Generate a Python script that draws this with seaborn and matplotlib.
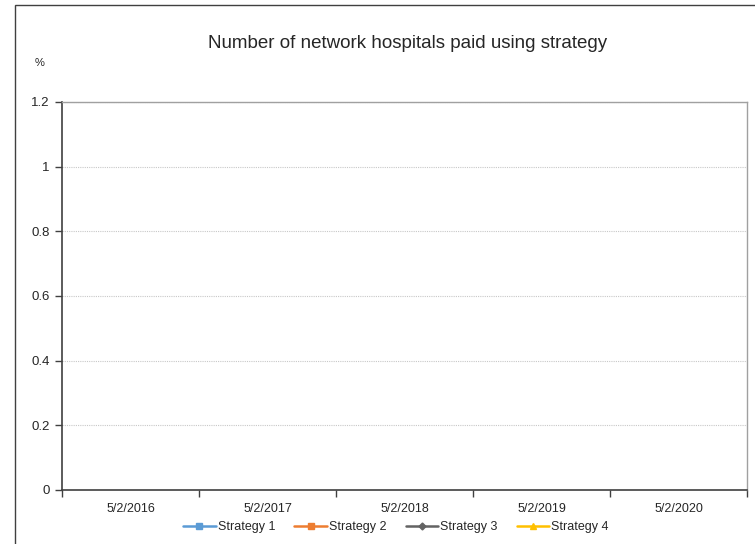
import numpy as np
import pandas as pd
import matplotlib
matplotlib.use("Agg")
import matplotlib.pyplot as plt
import seaborn as sns
from matplotlib.patches import Rectangle

# categories on the x axis
dates = ["5/2/2016", "5/2/2017", "5/2/2018", "5/2/2019", "5/2/2020"]

# series values (chart shows no data points)
strategy_1 = [np.nan, np.nan, np.nan, np.nan, np.nan]
strategy_2 = [np.nan, np.nan, np.nan, np.nan, np.nan]
strategy_3 = [np.nan, np.nan, np.nan, np.nan, np.nan]
strategy_4 = [np.nan, np.nan, np.nan, np.nan, np.nan]

series_names = ["Strategy 1", "Strategy 2", "Strategy 3", "Strategy 4"]
y_ticks = [0, 0.2, 0.4, 0.6, 0.8, 1, 1.2]
y_tick_labels = ["0", "0.2", "0.4", "0.6", "0.8", "1", "1.2"]

sns.set_style("white")
plt.rcParams['font.family'] = ['Liberation Sans', 'DejaVu Sans']

fig = plt.figure(figsize=(7.55, 5.44), dpi=100)
ax = fig.add_axes([62 / 755, 1 - 490 / 544, 685 / 755, 388 / 544])

# outer chart border
fig.patches.append(Rectangle((15 / 755, -0.1), 1.2, 1 - 5 / 544 + 0.1,
                             transform=fig.transFigure, fill=False,
                             edgecolor="#404040", linewidth=1.0))

styles = [("#5B9BD5", "s", 5), ("#ED7D31", "s", 5), ("#636363", "D", 3.5), ("#FFC000", "^", 5)]
x = np.arange(len(dates))
for name, vals, (c, m, ms) in zip(series_names, [strategy_1, strategy_2, strategy_3, strategy_4], styles):
    ax.plot(x, vals, color=c, marker=m, markersize=ms, linewidth=1.8, label=name)

ax.set_xlim(-0.5, len(dates) - 0.5)
ax.set_ylim(0, 1.2)
ax.set_yticks(y_ticks)
ax.set_yticklabels(y_tick_labels, fontsize=9.5)
ax.set_xticks(x)
ax.set_xticklabels(dates, fontsize=9)
ax.set_xticks(np.arange(-0.5, len(dates)), minor=True)
ax.tick_params(axis="x", which="major", length=0, pad=9)
ax.tick_params(axis="x", which="minor", length=5, width=1, color="#404040", direction="out", bottom=True)
ax.tick_params(axis="y", length=5, width=1, color="#404040", direction="out", left=True, pad=4)

ax.yaxis.grid(True, color="#C8C8C8", linestyle=(0, (1, 1)), linewidth=0.8)
ax.set_axisbelow(True)

for side in ["left", "bottom"]:
    ax.spines[side].set_color("#404040")
    ax.spines[side].set_linewidth(1.2)
for side in ["top", "right"]:
    ax.spines[side].set_color("#A0A0A0")
    ax.spines[side].set_linewidth(1.0)

fig.text(408 / 755, 1 - 44 / 544, "Number of network hospitals paid using strategy",
         ha="center", va="center", fontsize=13.5)
fig.text(40 / 755, 1 - 63 / 544, "%", ha="center", va="center", fontsize=8)

fig.legend(loc="center", bbox_to_anchor=(396 / 755, 1 - 527 / 544), ncol=4,
           frameon=False, fontsize=9, handlelength=2.6, handletextpad=0.15,
           columnspacing=1.55)

fig.savefig("out.png", dpi=100)
